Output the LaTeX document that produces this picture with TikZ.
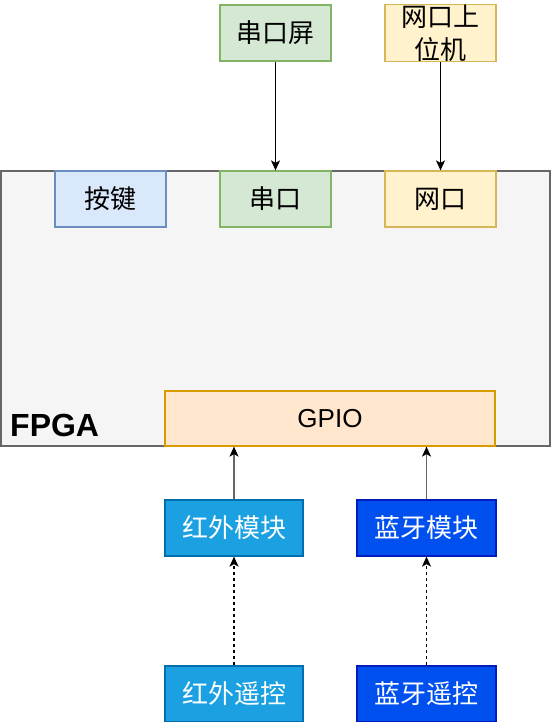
\documentclass[tikz,border=0pt]{standalone}
\usepackage{fontspec}
\setmainfont{Liberation Sans}
\newfontfamily\cjk{Noto Sans CJK SC}
\usetikzlibrary{arrows.meta}
\definecolor{fpgafill}{HTML}{F5F5F5}
\definecolor{fpgadraw}{HTML}{666666}
\definecolor{greenfill}{HTML}{D5E8D4}
\definecolor{greendraw}{HTML}{82B366}
\definecolor{yelfill}{HTML}{FFF2CC}
\definecolor{yeldraw}{HTML}{D6B656}
\definecolor{bluefill}{HTML}{DAE8FC}
\definecolor{bluedraw}{HTML}{6C8EBF}
\definecolor{orfill}{HTML}{FFE6CC}
\definecolor{ordraw}{HTML}{D79B00}
\definecolor{irfill}{HTML}{1BA1E2}
\definecolor{irdraw}{HTML}{006EAF}
\definecolor{btfill}{HTML}{0050EF}
\definecolor{btdraw}{HTML}{001DBC}
\definecolor{arrgray}{HTML}{666666}
\tikzset{
  box/.style={draw, rectangle, line width=1.2pt, inner sep=0pt, minimum height=56pt,
    font=\fontsize{26}{32}\selectfont\cjk},
  gbox/.style={box, fill=greenfill, draw=greendraw, minimum width=111pt},
  ybox/.style={box, fill=yelfill, draw=yeldraw, minimum width=111pt},
  bbox/.style={box, fill=bluefill, draw=bluedraw, minimum width=111pt},
  irbox/.style={box, fill=irfill, draw=irdraw, minimum width=138pt, text=white},
  btbox/.style={box, fill=btfill, draw=btdraw, minimum width=139pt, text=white},
  arr/.style={line width=1.5pt, -{Stealth[length=10pt,width=9pt,inset=2.5pt,color=black]}},
}
\begin{document}
\begin{tikzpicture}[x=1pt,y=-1pt]
\useasboundingbox[fill=white] (0,0) rectangle (551,722);
\node[draw=fpgadraw, fill=fpgafill, line width=1.2pt, minimum width=549pt, minimum height=275pt, inner sep=0pt] (fpga) at (275.5,308.5) {};
\node[anchor=west, inner sep=0pt, font=\fontsize{32}{38}\selectfont\bfseries] (fpgalabel) at (10,425) {FPGA};
\node[box, fill=orfill, draw=ordraw, minimum width=330pt, minimum height=55pt, font=\fontsize{26}{32}\selectfont] (gpio) at (330,418.5) {GPIO};
\node[bbox] (key) at (110.5,199) {按键};
\node[gbox] (uart) at (275.5,199) {串口};
\node[ybox] (eth) at (440.5,199) {网口};
\node[gbox] (screen) at (275.5,33) {串口屏};
\node[ybox, align=center, font=\fontsize{26}{33}\selectfont\cjk] (host) at (440.5,33) {网口上\\位机};
\node[irbox] (irmod) at (234,528) {红外模块};
\node[btbox] (btmod) at (426.5,528) {蓝牙模块};
\node[irbox] (irrc) at (234,694) {红外遥控};
\node[btbox] (btrc) at (426.5,694) {蓝牙遥控};
\draw[arr] (screen.south) -- (uart.north);
\draw[arr] (host.south) -- (eth.north);
\draw[arr, arrgray] (irmod.north) -- (irmod.north |- gpio.south);
\draw[arr, arrgray] (btmod.north) -- (btmod.north |- gpio.south);
\draw[arr, dashed] (irrc.north) -- (irmod.south);
\draw[arr, dashed] (btrc.north) -- (btmod.south);
\end{tikzpicture}
\end{document}
